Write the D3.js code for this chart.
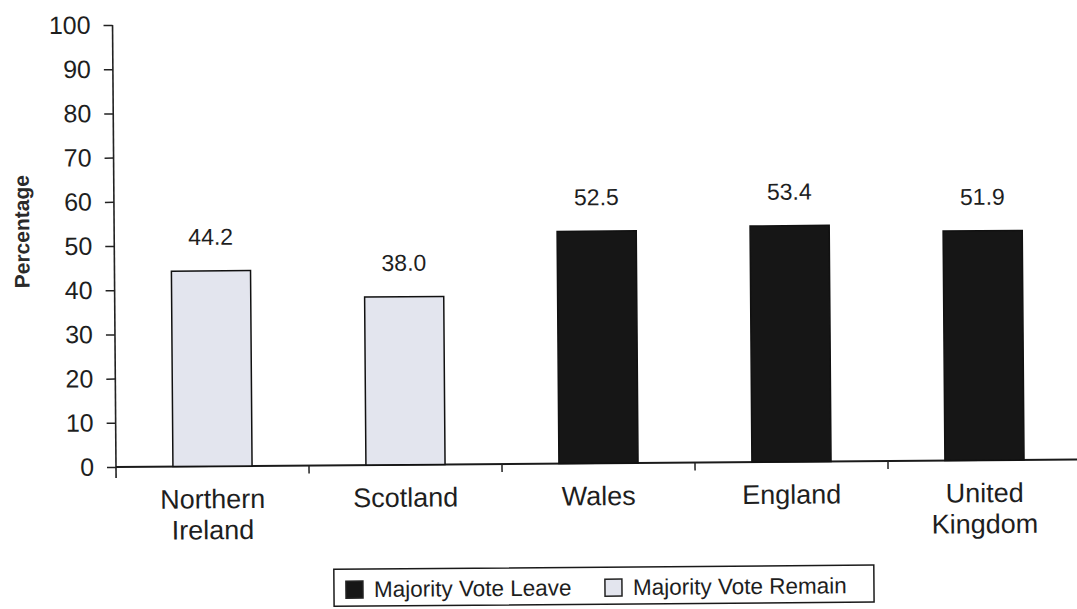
<!DOCTYPE html>
<html>
<head>
<meta charset="utf-8">
<script src="https://cdn.jsdelivr.net/npm/d3@7/dist/d3.min.js"></script>
<style>
  html, body { margin: 0; padding: 0; background: #fff; }
  svg { display: block; font-family: "Liberation Sans", Arial, Helvetica, sans-serif; }
</style>
</head>
<body>
<svg id="chart" width="1077" height="609"></svg>
<script>
// Referendum result by nation: share of the vote for Leave (%)
const categories = ["Northern Ireland", "Scotland", "Wales", "England", "United Kingdom"];
const leaveShare = [44.2, 38.0, 52.5, 53.4, 51.9];
const outcome = ["Remain", "Remain", "Leave", "Leave", "Leave"];
const yTicks = [0, 10, 20, 30, 40, 50, 60, 70, 80, 90, 100];
const legendItems = ["Leave", "Remain"];
const legendLabels = ["Majority Vote Leave", "Majority Vote Remain"];

const colour = d3.scaleOrdinal()
  .domain(legendItems)
  .range(["#161616", "#e3e5ee"]);

const svg = d3.select("#chart");
const origin = { x: 116, y: 467 };

// the printed page sits at a very slight tilt
const page = svg.append("g").attr("transform", `rotate(-0.45, ${origin.x}, ${origin.y})`);

const x = d3.scaleBand()
  .domain(categories)
  .range([origin.x, origin.x + 5 * 193])
  .paddingInner(0.59)
  .paddingOuter(0.295);

const y = d3.scaleLinear()
  .domain([0, 100])
  .range([origin.y, 25]);

// y axis
const yAxis = page.append("g")
  .attr("transform", `translate(${origin.x},0)`)
  .call(d3.axisLeft(y).tickValues(yTicks).tickSize(9).tickPadding(13).tickFormat(d3.format("d")));
yAxis.select(".domain").attr("d", `M0,${y(100)}V${origin.y + 11}`).attr("stroke", "#222").attr("stroke-width", 1.6);
yAxis.selectAll(".tick line").attr("stroke", "#222").attr("stroke-width", 1.5);
yAxis.selectAll(".tick text")
  .attr("font-size", 25)
  .attr("fill", "#1e1e1e")
  .attr("font-family", "Liberation Sans, Arial, sans-serif");

// x axis with ticks at category boundaries
const step = x.step();
const boundaries = d3.range(categories.length + 1).map(i => origin.x + i * step);
page.append("line")
  .attr("x1", origin.x).attr("x2", 1090)
  .attr("y1", origin.y).attr("y2", origin.y)
  .attr("stroke", "#1a1a1a").attr("stroke-width", 2);
page.selectAll(".xtick")
  .data(boundaries.slice(1))
  .join("line")
  .attr("class", "xtick")
  .attr("x1", d => d).attr("x2", d => d)
  .attr("y1", origin.y).attr("y2", origin.y + 8)
  .attr("stroke", "#222").attr("stroke-width", 1.5);

// bars
const rows = categories.map((c, i) => ({ name: c, value: leaveShare[i], result: outcome[i] }));
page.selectAll(".bar")
  .data(rows)
  .join("rect")
  .attr("class", "bar")
  .attr("x", d => x(d.name))
  .attr("width", x.bandwidth())
  .attr("y", d => y(d.value))
  .attr("height", d => y(0) - y(d.value))
  .attr("fill", d => colour(d.result))
  .attr("stroke", "#111")
  .attr("stroke-width", 1.5);

// value labels
page.selectAll(".val")
  .data(rows)
  .join("text")
  .attr("class", "val")
  .attr("x", d => x(d.name) + x.bandwidth() / 2)
  .attr("y", d => y(d.value) - 26)
  .attr("text-anchor", "middle")
  .attr("font-size", 23)
  .attr("fill", "#1e1e1e")
  .text(d => d.value.toFixed(1));

// category labels (two-word names wrap onto two lines)
page.selectAll(".cat")
  .data(rows)
  .join("text")
  .attr("class", "cat")
  .attr("text-anchor", "middle")
  .attr("font-size", 27)
  .attr("fill", "#1e1e1e")
  .each(function(d) {
    const t = d3.select(this);
    d.name.split(" ").forEach((w, j) => {
      t.append("tspan")
        .attr("x", x(d.name) + x.bandwidth() / 2)
        .attr("y", 509 + j * 31)
        .text(w);
    });
  });

// y axis title
page.append("text")
  .attr("transform", "translate(31,231) rotate(-90)")
  .attr("text-anchor", "middle")
  .attr("font-size", 21)
  .attr("font-weight", "bold")
  .attr("fill", "#2a2a2a")
  .text("Percentage");

// legend
const legend = page.append("g");
legend.append("rect")
  .attr("x", 333).attr("y", 571)
  .attr("width", 540).attr("height", 37)
  .attr("fill", "#fff")
  .attr("stroke", "#1a1a1a").attr("stroke-width", 1.5);
const legendX = [345, 604];
legendItems.forEach((k, i) => {
  legend.append("rect")
    .attr("x", legendX[i]).attr("y", 583)
    .attr("width", 17).attr("height", 17)
    .attr("fill", colour(k))
    .attr("stroke", "#222").attr("stroke-width", 1.5);
  legend.append("text")
    .attr("x", legendX[i] + 28).attr("y", 599)
    .attr("font-size", 22.5)
    .attr("fill", "#1e1e1e")
    .text(legendLabels[i]);
});
</script>
</body>
</html>
